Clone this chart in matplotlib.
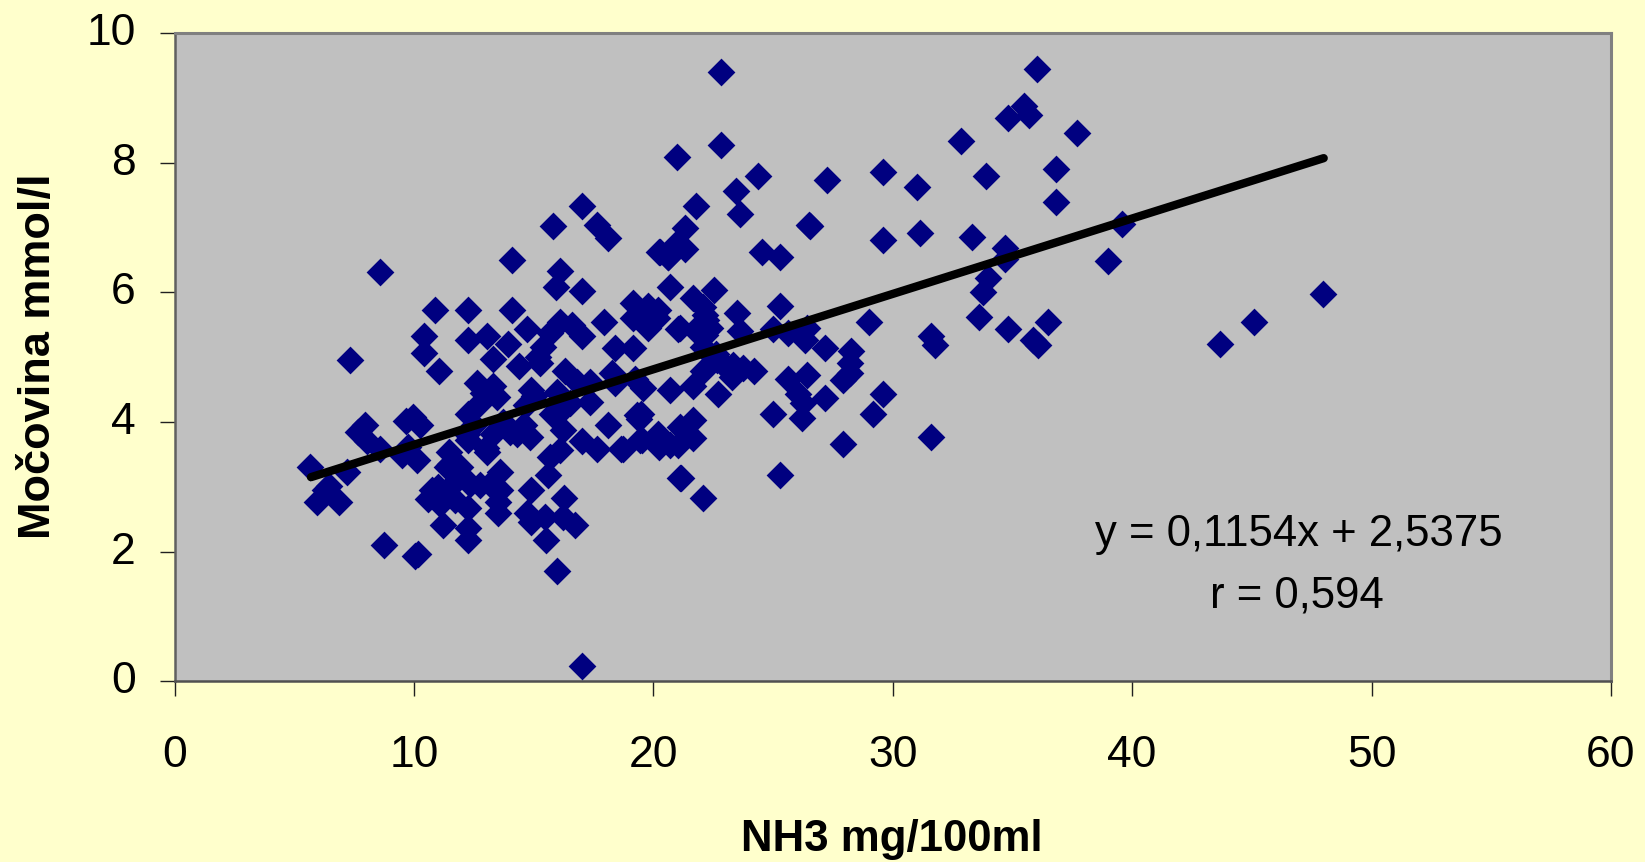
import matplotlib
matplotlib.use("Agg")
import matplotlib.pyplot as plt
from matplotlib.transforms import ScaledTranslation

plt.rcParams['font.family'] = ['Liberation Sans', 'DejaVu Sans']

# NH3 mg/100ml
nh3 = [8.58, 7.34, 10.88, 12.27, 14.11, 14.11, 16.1, 15.93, 17.03, 15.79, 17.03, 17.63, 18.12,
       20.27, 20.62, 20.69, 10.43, 10.43, 11.05, 12.27, 13.04, 13.94, 13.32, 14.71, 14.4, 15.26,
       15.4, 15.68, 16.1, 16.59, 17.0, 17.95, 18.4, 19.16, 19.16, 19.79, 20.2, 19.16, 19.79, 20.14,
       21.1, 18.26, 19.23, 19.58, 20.69, 18.4, 16.3, 16.8, 17.35, 17.35, 15.96, 14.87, 14.7, 12.62,
       13.32, 13.46, 12.76, 12.27, 15.75, 16.24, 16.03, 16.1, 15.68, 15.61, 17.03, 17.63, 18.12,
       18.72, 19.44, 20.2, 20.69, 19.3, 19.5, 21.1,
       5.66, 7.19, 6.47, 6.29, 5.97, 6.88, 7.96, 7.68, 8.03, 8.58, 9.67, 9.95, 10.25, 9.77, 9.49,
       10.11, 11.48, 11.51, 12.2, 12.27, 13.04, 13.32, 14.29, 14.85, 11.92, 13.59, 13.18, 13.59,
       12.34, 11.8, 12.76, 11.02, 10.74, 10.6, 11.37, 11.09, 11.72, 12.27, 11.23, 12.27, 12.27,
       13.5, 13.52, 14.87, 16.27, 14.73, 14.9, 15.47, 16.24, 16.73, 15.5, 15.96, 8.75, 10.18, 10.04,
       21.78, 21.32, 20.25, 20.62, 21.32, 20.97, 23.62, 24.52, 25.31, 26.54, 29.6, 31.13, 33.29,
       33.99, 33.78, 33.6, 21.64, 22.54, 22.09, 22.15, 22.22, 22.36, 21.04, 21.74, 22.15, 22.09,
       23.48, 23.62, 25.31, 25.01, 25.63, 26.4, 26.33, 27.17, 29.0, 31.59, 31.76, 28.24, 28.21,
       28.21, 27.93, 24.2, 23.34, 23.76, 23.27, 22.09, 22.64, 21.64, 22.71, 25.63, 26.4, 26.05,
       27.17, 26.26, 26.23, 25.01, 29.6, 29.16, 31.59, 27.93, 25.31, 21.15, 22.09, 21.64, 21.11,
       21.67, 21.04, 20.2, 20.25, 19.51, 18.67,
       22.84, 22.84, 21.0, 23.46, 24.38, 27.27, 26.52, 29.6, 31.0, 32.83, 33.88, 34.8, 35.5, 35.7,
       36.03, 37.7, 36.8, 36.8, 39.57, 38.97, 34.67, 34.67, 34.8, 35.85, 36.07, 36.5, 43.65, 45.1,
       47.98, 17.02,
       12.9, 13.7, 14.0, 14.6, 15.0, 16.5, 13.0, 12.5, 11.4, 15.2, 19.4, 22.6, 22.9, 23.3]

# Mocovina mmol/l
urea = [6.32, 4.96, 5.73, 5.73, 5.73, 6.5, 6.33, 6.08, 6.02, 7.03, 7.33, 7.04, 6.84,
        6.63, 6.55, 6.09, 5.33, 5.07, 4.78, 5.27, 5.32, 5.2, 4.97, 5.43, 4.87, 4.91,
        5.16, 5.37, 5.55, 5.5, 5.32, 5.55, 5.14, 5.83, 5.6, 5.79, 5.73, 5.14, 5.45, 5.6,
        5.45, 4.76, 4.67, 4.52, 4.49, 4.6, 4.78, 4.62, 4.62, 4.31, 4.47, 4.49, 4.26, 4.6,
        4.55, 4.39, 4.29, 4.13, 4.13, 3.88, 4.13, 3.57, 3.46, 3.18, 3.7, 3.59, 3.95,
        3.59, 3.72, 3.82, 3.64, 4.11, 4.13, 3.13,
        3.31, 3.23, 3.01, 2.95, 2.76, 2.76, 3.95, 3.84, 3.7, 3.59, 4.02, 4.08, 3.95, 3.61, 3.49,
        3.41, 3.54, 3.36, 3.82, 3.72, 3.54, 3.82, 3.82, 3.77, 3.31, 3.23, 3.05, 2.95,
        3.05, 3.1, 3.03, 3.0, 2.95, 2.82, 2.9, 2.74, 2.79, 2.67, 2.41, 2.36, 2.18,
        2.59, 2.77, 2.95, 2.83, 2.6, 2.46, 2.54, 2.54, 2.41, 2.18, 1.7, 2.11, 1.97, 1.94,
        7.33, 6.99, 6.63, 6.55, 6.67, 6.76, 7.21, 6.62, 6.55, 7.03, 6.8, 6.91, 6.85,
        6.22, 6.01, 5.62, 5.91, 6.03, 5.78, 5.65, 5.57, 5.45, 5.43, 5.42, 5.34, 5.16,
        5.68, 5.4, 5.79, 5.43, 5.37, 5.45, 5.27, 5.14, 5.55, 5.33, 5.19, 5.09, 4.91,
        4.75, 4.65, 4.78, 4.88, 4.83, 4.7, 4.78, 4.96, 4.55, 4.43, 4.67, 4.73, 4.44,
        4.37, 4.29, 4.06, 4.13, 4.43, 4.13, 3.77, 3.66, 3.19, 3.13, 2.83, 4.03, 3.93,
        3.75, 3.65, 3.75, 3.62, 3.72, 3.59,
        9.4, 8.27, 8.09, 7.56, 7.8, 7.73, 7.04, 7.85, 7.62, 8.33, 7.8, 8.69, 8.87, 8.74,
        9.45, 8.46, 7.91, 7.39, 7.06, 6.49, 6.68, 6.52, 5.44, 5.26, 5.19, 5.55, 5.21, 5.55,
        5.97, 0.23,
        4.45, 4.0, 3.85, 3.95, 4.4, 4.3, 3.6, 3.95, 3.3, 5.0, 4.05, 5.05, 4.9, 4.75]

trend_x = [5.7, 48.0]
trend_y = [3.15, 8.07]

x_ticks = [0, 10, 20, 30, 40, 50, 60]
y_ticks = [0, 2, 4, 6, 8, 10]

fig = plt.figure(figsize=(16.45, 8.625), dpi=100, facecolor='#FFFFCC')
ax = fig.add_axes([174.5/1645, 1 - 681.5/862, (1611 - 174.5)/1645, (681.5 - 33.5)/862])
ax.set_facecolor('#C0C0C0')

ax.scatter(nh3, urea, marker='D', s=200, color='#000080', linewidths=0, zorder=3)
ax.plot(trend_x, trend_y, color='black', linewidth=6, zorder=4, solid_capstyle='round')

ax.set_xlim(0, 60)
ax.set_ylim(0, 10)
ax.set_xticks(x_ticks)
ax.set_yticks(y_ticks)
ax.tick_params(axis='x', length=11, width=1, labelsize=32, pad=27.5, color='#202020')
ax.tick_params(axis='y', length=11, width=1, labelsize=32, pad=17, color='#202020')

# labels on the y axis sit a bit above their ticks
shift_up = ScaledTranslation(0, 3.2/72, fig.dpi_scale_trans)
for lab in ax.get_yticklabels():
    lab.set_transform(lab.get_transform() + shift_up)

for side in ['top', 'right']:
    ax.spines[side].set_color('#808080')
    ax.spines[side].set_linewidth(2.2)
ax.spines['left'].set_color('#606060')
ax.spines['left'].set_linewidth(1.8)
ax.spines['bottom'].set_color('#505050')
ax.spines['bottom'].set_linewidth(1.8)

fig.text(892/1645, 1 - 839/862, 'NH3 mg/100ml', fontsize=31.5, fontweight='bold', ha='center', va='center')
fig.text(39/1645, 1 - 356/862, 'Močovina mmol/l', fontsize=32.5, fontweight='bold', rotation=90,
         ha='center', va='center')

ax.text(1299/1645, 1 - 534/862, 'y = 0,1154x + 2,5375', transform=fig.transFigure, fontsize=31.5,
        ha='center', va='center', zorder=5)
ax.text(1297/1645, 1 - 596/862, 'r = 0,594', transform=fig.transFigure, fontsize=31.5,
        ha='center', va='center', zorder=5)

fig.savefig('out.png', dpi=100, facecolor=fig.get_facecolor())
